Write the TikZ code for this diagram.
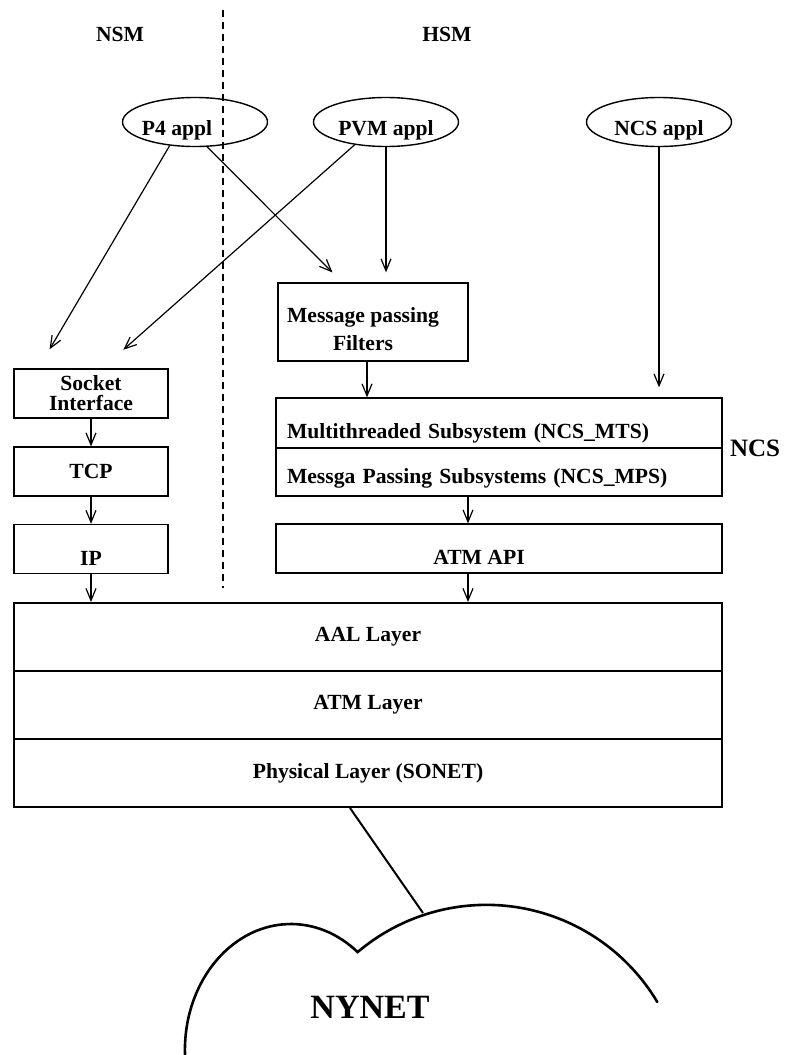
\documentclass[tikz,border=0pt]{standalone}
\usepackage{fontspec}
\setmainfont{Liberation Serif}
\usetikzlibrary{shapes.geometric,arrows.meta,calc}
\newcommand{\nynetCloud}{%%
  %% The two arcs of the cloud.
  \draw[cloudStyle] (185,1054.4)
    arc[start angle=178,end angle=309,x radius=106,y radius=126]
    arc[start angle=229.7,end angle=329.2,radius=199];
  \coordinate (cloudtop) at (423,913);
  \node[font=\bfseries\fontsize{17}{20}\selectfont] (nynet) at (370,1007) {NYNET};
}
\newcommand{\splitLine}{%%
  \coordinate (splittop) at (223,10);
  \coordinate (splitbottom) at (223,588);
  \draw[dashStyle] (splittop) -- (splitbottom);
}

\begin{document}
\begin{tikzpicture}[%%
  x=0.5pt,y=-0.5pt,%%
  every node/.style={font=\bfseries\fontsize{10.8}{10}\selectfont},%%
  boxStyle/.style={draw,line width=0.65pt,inner sep=0pt,minimum width=77pt,minimum height=24.5pt},%%
  wideStyle/.style={draw,line width=0.65pt,inner sep=0pt,minimum width=223pt},%%
  applStyle/.style={ellipse,draw,line width=0.7pt,inner sep=0pt,minimum width=72.5pt,minimum height=24.5pt,text height=13.5pt,text depth=0pt},%%
  layerStyle/.style={draw,line width=1pt,inner sep=0pt,minimum width=354pt,minimum height=34pt},%%
  lowStyle/.style={text height=#1,text depth=0pt},%%
  flowStyle/.style={-{Straight Barb[length=6pt,width=5pt]},line width=0.6pt},%%
  linkStyle/.style={line width=1pt},%%
  dashStyle/.style={dash pattern=on 3.5pt off 2.5pt,line width=0.6pt},%%
  cloudStyle/.style={line width=1.3pt,line cap=round}
]
\useasboundingbox (0,0) rectangle (786,1055);
%%
%% The two sides.
\splitLine
\node (nsm) at (120,34) {NSM};
\node (hsm) at (447,34) {HSM};
%%
%% The applications.
\node[applStyle,label={[lowStyle=13.5pt,xshift=-9pt]center:P4 appl}] (p4) at (195,122) {};
\node[applStyle] (pvm) at (386,122) {PVM appl};
\node[applStyle] (ncsappl) at (659,122) {NCS appl};
%%
%% The NSM stack.
\node[boxStyle,align=center] (socket) at (91,393.5) {Socket\\Interface};
\node[boxStyle] (tcp) at (91,471.5) {TCP};
\node[boxStyle,lowStyle=16pt] (ip) at (91,549) {IP};
%%
%% The HSM stack.
\node[boxStyle,minimum width=95pt,minimum height=39pt,
  label={[align=center,xshift=-5pt,yshift=-3.5pt]center:Message passing\\[4pt]Filters}] (filters) at (373,322) {};
\node[wideStyle,minimum height=25pt,lowStyle=15pt,text width=212pt,align=left] (mts) at (499,423)
  {Multithreaded Subsystem (NCS\_MTS)};
\node[wideStyle,minimum height=24pt,lowStyle=11pt,text width=212pt,align=left] (mps) at (499,472)
  {Messga Passing Subsystems (NCS\_MPS)};
\node[font=\bfseries\fontsize{12.5}{14}\selectfont] (ncs) at (755,448) {NCS};
\node[wideStyle,minimum height=24.5pt,label={[lowStyle=16pt,xshift=-10pt]center:ATM API}] (atmapi) at (499,548.5) {};
%%
%% The ATM layers.
\node[layerStyle] (aal) at (368,637) {AAL Layer};
\node[layerStyle] (atm) at (368,705) {ATM Layer};
\node[layerStyle] (phy) at (368,773) {Physical Layer (SONET)};
%%
%% The arrows.
\draw[flowStyle,shorten >=11pt] (p4.223) -- ($(socket.north west)+(25,0)$);
\draw[flowStyle,shorten >=14pt] (pvm.216) -- ($(socket.north west)+(89,0)$);
\draw[flowStyle,shorten >=7pt] (p4.296) -- ($(filters.north west)+(65,0)$);
\draw[flowStyle,shorten >=5pt] (pvm.south) -- (pvm.south |- filters.north);
\draw[flowStyle,shorten >=5pt] (ncsappl.south) -- (ncsappl.south |- mts.north);
\coordinate (filtersout) at ($(filters.south)+(-6,0)$);
\draw[flowStyle] (filtersout) -- (filtersout |- mts.north);
\coordinate (mpsout) at ($(mps.south)+(-31,0)$);
\draw[flowStyle] (mpsout) -- (mpsout |- atmapi.north);
\coordinate (apiout) at ($(atmapi.south)+(-31,0)$);
\draw[flowStyle] (apiout) -- (apiout |- aal.north);
\draw[flowStyle] (socket.south) -- (tcp.north);
\draw[flowStyle] (tcp.south) -- (ip.north);
\draw[flowStyle] (ip.south) -- (ip.south |- aal.north);
%%
%% The network.
\nynetCloud
\coordinate (phyout) at ($(phy.south)+(-18,0)$);
\draw[linkStyle] (phyout) -- (cloudtop);
\end{tikzpicture}
\end{document}
